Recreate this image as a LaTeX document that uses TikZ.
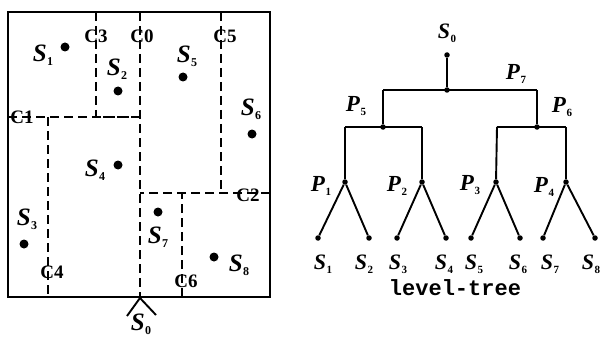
\documentclass[tikz,border=0pt]{standalone}
\usepackage{fontspec}
\setmainfont{Liberation Serif}
\newfontfamily\monof{Liberation Mono}
\newcommand\Sn[1]{{\fontsize{22}{22}\selectfont\bfseries\itshape S}\kern0.5pt\raisebox{-4pt}{\fontsize{11}{11}\selectfont\bfseries #1}}
\newcommand\SL[1]{{\fontsize{25}{25}\selectfont\bfseries\itshape S}\kern0.5pt\raisebox{-4pt}{\fontsize{12}{12}\selectfont\bfseries #1}}
\newcommand\Pn[1]{{\fontsize{23}{23}\selectfont\bfseries\itshape P}\kern0.5pt\raisebox{-4pt}{\fontsize{11}{11}\selectfont\bfseries #1}}
\tikzset{
  frame/.style={line width=2pt},
  cut/.style={line width=1.8pt, dash pattern=on 9pt off 5pt},
  dotL/.style={circle, fill, inner sep=0pt, minimum size=9pt},
  dotT/.style={circle, fill, inner sep=0pt, minimum size=5.5pt},
  lab/.style={inner sep=0pt},
  clab/.style={font=\fontsize{19}{19}\selectfont\bfseries, inner sep=0pt},
  edge/.style={line width=1.9pt},
}
\begin{document}
\begin{tikzpicture}[x=1pt,y=-1pt]
\useasboundingbox (0,0) rectangle (603,337);
% ---------- left plan ----------
\coordinate (TL) at (8,12);
\coordinate (BR) at (270,297);
\draw[frame] (TL) rectangle (BR);
% cut lines
\coordinate (c0t) at (140,12);  \coordinate (c0b) at (140,297);
\coordinate (c3t) at (96,12);   \coordinate (c3b) at (96,117);
\coordinate (c1l) at (8,117);   \coordinate (c1r) at (140,117);
\coordinate (c4t) at (48,117);  \coordinate (c4b) at (48,297);
\coordinate (c5t) at (221,12);  \coordinate (c5b) at (221,193);
\coordinate (c2l) at (140,193); \coordinate (c2r) at (270,193);
\coordinate (c6t) at (182,193); \coordinate (c6b) at (182,297);
\draw[cut] (c0t) -- (c0b);
\draw[cut] (c3t) -- (c3b) -- (c1r);
\draw[cut] (c1l) -- (c1r);
\draw[cut] (c4t) -- (c4b);
\draw[cut] (c5t) -- (c5b);
\draw[cut] (c2r) -- (c2l);
\draw[cut] (c6b) -- (c6t);
% cut labels
\node[clab] (C0) at (142,36) {C0};
\node[clab] (C3) at (96,36) {C3};
\node[clab] (C5) at (225,36) {C5};
\node[clab] (C1) at (22,117) {C1};
\node[clab] (C2) at (248,195) {C2};
\node[clab] (C4) at (52,272) {C4};
\node[clab] (C6) at (186,281) {C6};
% sites
\node[dotL] (d1) at (65,47) {};
\node[lab] (l1) at (43,55) {\SL{1}};
\node[dotL] (d2) at (118,91) {};
\node[lab] (l2) at (117,69) {\SL{2}};
\node[dotL] (d5) at (183,77) {};
\node[lab] (l5) at (187,56) {\SL{5}};
\node[dotL] (d6) at (252,134) {};
\node[lab] (l6) at (251,109) {\SL{6}};
\node[dotL] (d4) at (118,165) {};
\node[lab] (l4) at (95,170) {\SL{4}};
\node[dotL] (d3) at (24,244) {};
\node[lab] (l3) at (27,219) {\SL{3}};
\node[dotL] (d7) at (158,212) {};
\node[lab] (l7) at (158,237) {\SL{7}};
\node[dotL] (d8) at (214,257) {};
\node[lab] (l8) at (239,265) {\SL{8}};
% S0 below
\coordinate (s0a) at (140,298);
\coordinate (s0l) at (127,316);
\coordinate (s0r) at (156,315);
\draw[edge] (s0l) -- (s0a) -- (s0r);
\node[lab] (l0) at (141,324) {\SL{0}};
% ---------- right tree ----------
\node[lab] (t0) at (447,33) {\Sn{0}};
\node[dotT] (r) at (447,55) {};
\node[dotT] (p7) at (447,90) {};
\coordinate (p7l) at (383,90);
\coordinate (p7r) at (537,90);
\node[dotT] (p5) at (383,127) {};
\node[dotT] (p6) at (537,127) {};
\coordinate (p5l) at (345,127); \coordinate (p5r) at (422,127);
\coordinate (p6l) at (497,127); \coordinate (p6r) at (566,127);
\node[dotT] (p1) at (345,182) {};
\node[dotT] (p2) at (422,182) {};
\node[dotT] (p3) at (496,182) {};
\node[dotT] (p4) at (566,182) {};
\draw[edge] (r) -- (p7);
\draw[edge] (p7l) -- (p7r);
\draw[edge] (p7l) -- (p5);
\draw[edge] (p7r) -- (p6);
\draw[edge] (p5l) -- (p5r);
\draw[edge] (p6l) -- (p6r);
\draw[edge] (p5l) -- (p1);
\draw[edge] (p5r) -- (p2);
\draw[edge] (p6l) -- (p3);
\draw[edge] (p6r) -- (p4);
\node[lab] (tp7) at (516,74) {\Pn{7}};
\node[lab] (tp5) at (356,106) {\Pn{5}};
\node[lab] (tp6) at (562,107) {\Pn{6}};
\node[lab] (tp1) at (321,186) {\Pn{1}};
\node[lab] (tp2) at (397,186) {\Pn{2}};
\node[lab] (tp3) at (470,185) {\Pn{3}};
\node[lab] (tp4) at (544,187) {\Pn{4}};
% leaves
\node[dotT] (a1) at (318,238) {};
\node[dotT] (a2) at (369,238) {};
\node[dotT] (a3) at (397,238) {};
\node[dotT] (a4) at (446,238) {};
\node[dotT] (a5) at (471,238) {};
\node[dotT] (a6) at (520,238) {};
\node[dotT] (a7) at (543,238) {};
\node[dotT] (a8) at (595,238) {};
\draw[edge] (a1) -- (p1) -- (a2);
\draw[edge] (a3) -- (p2) -- (a4);
\draw[edge] (a5) -- (p3) -- (a6);
\draw[edge] (a7) -- (p4) -- (a8);
\node[lab] (b1) at (323,264) {\Sn{1}};
\node[lab] (b2) at (364,264) {\Sn{2}};
\node[lab] (b3) at (398,264) {\Sn{3}};
\node[lab] (b4) at (444,264) {\Sn{4}};
\node[lab] (b5) at (474,264) {\Sn{5}};
\node[lab] (b6) at (518,264) {\Sn{6}};
\node[lab] (b7) at (550,264) {\Sn{7}};
\node[lab] (b8) at (591,264) {\Sn{8}};
\node[lab] (cap) at (455,288) {\monof\bfseries\fontsize{22}{22}\selectfont level-tree};
\end{tikzpicture}
\end{document}
